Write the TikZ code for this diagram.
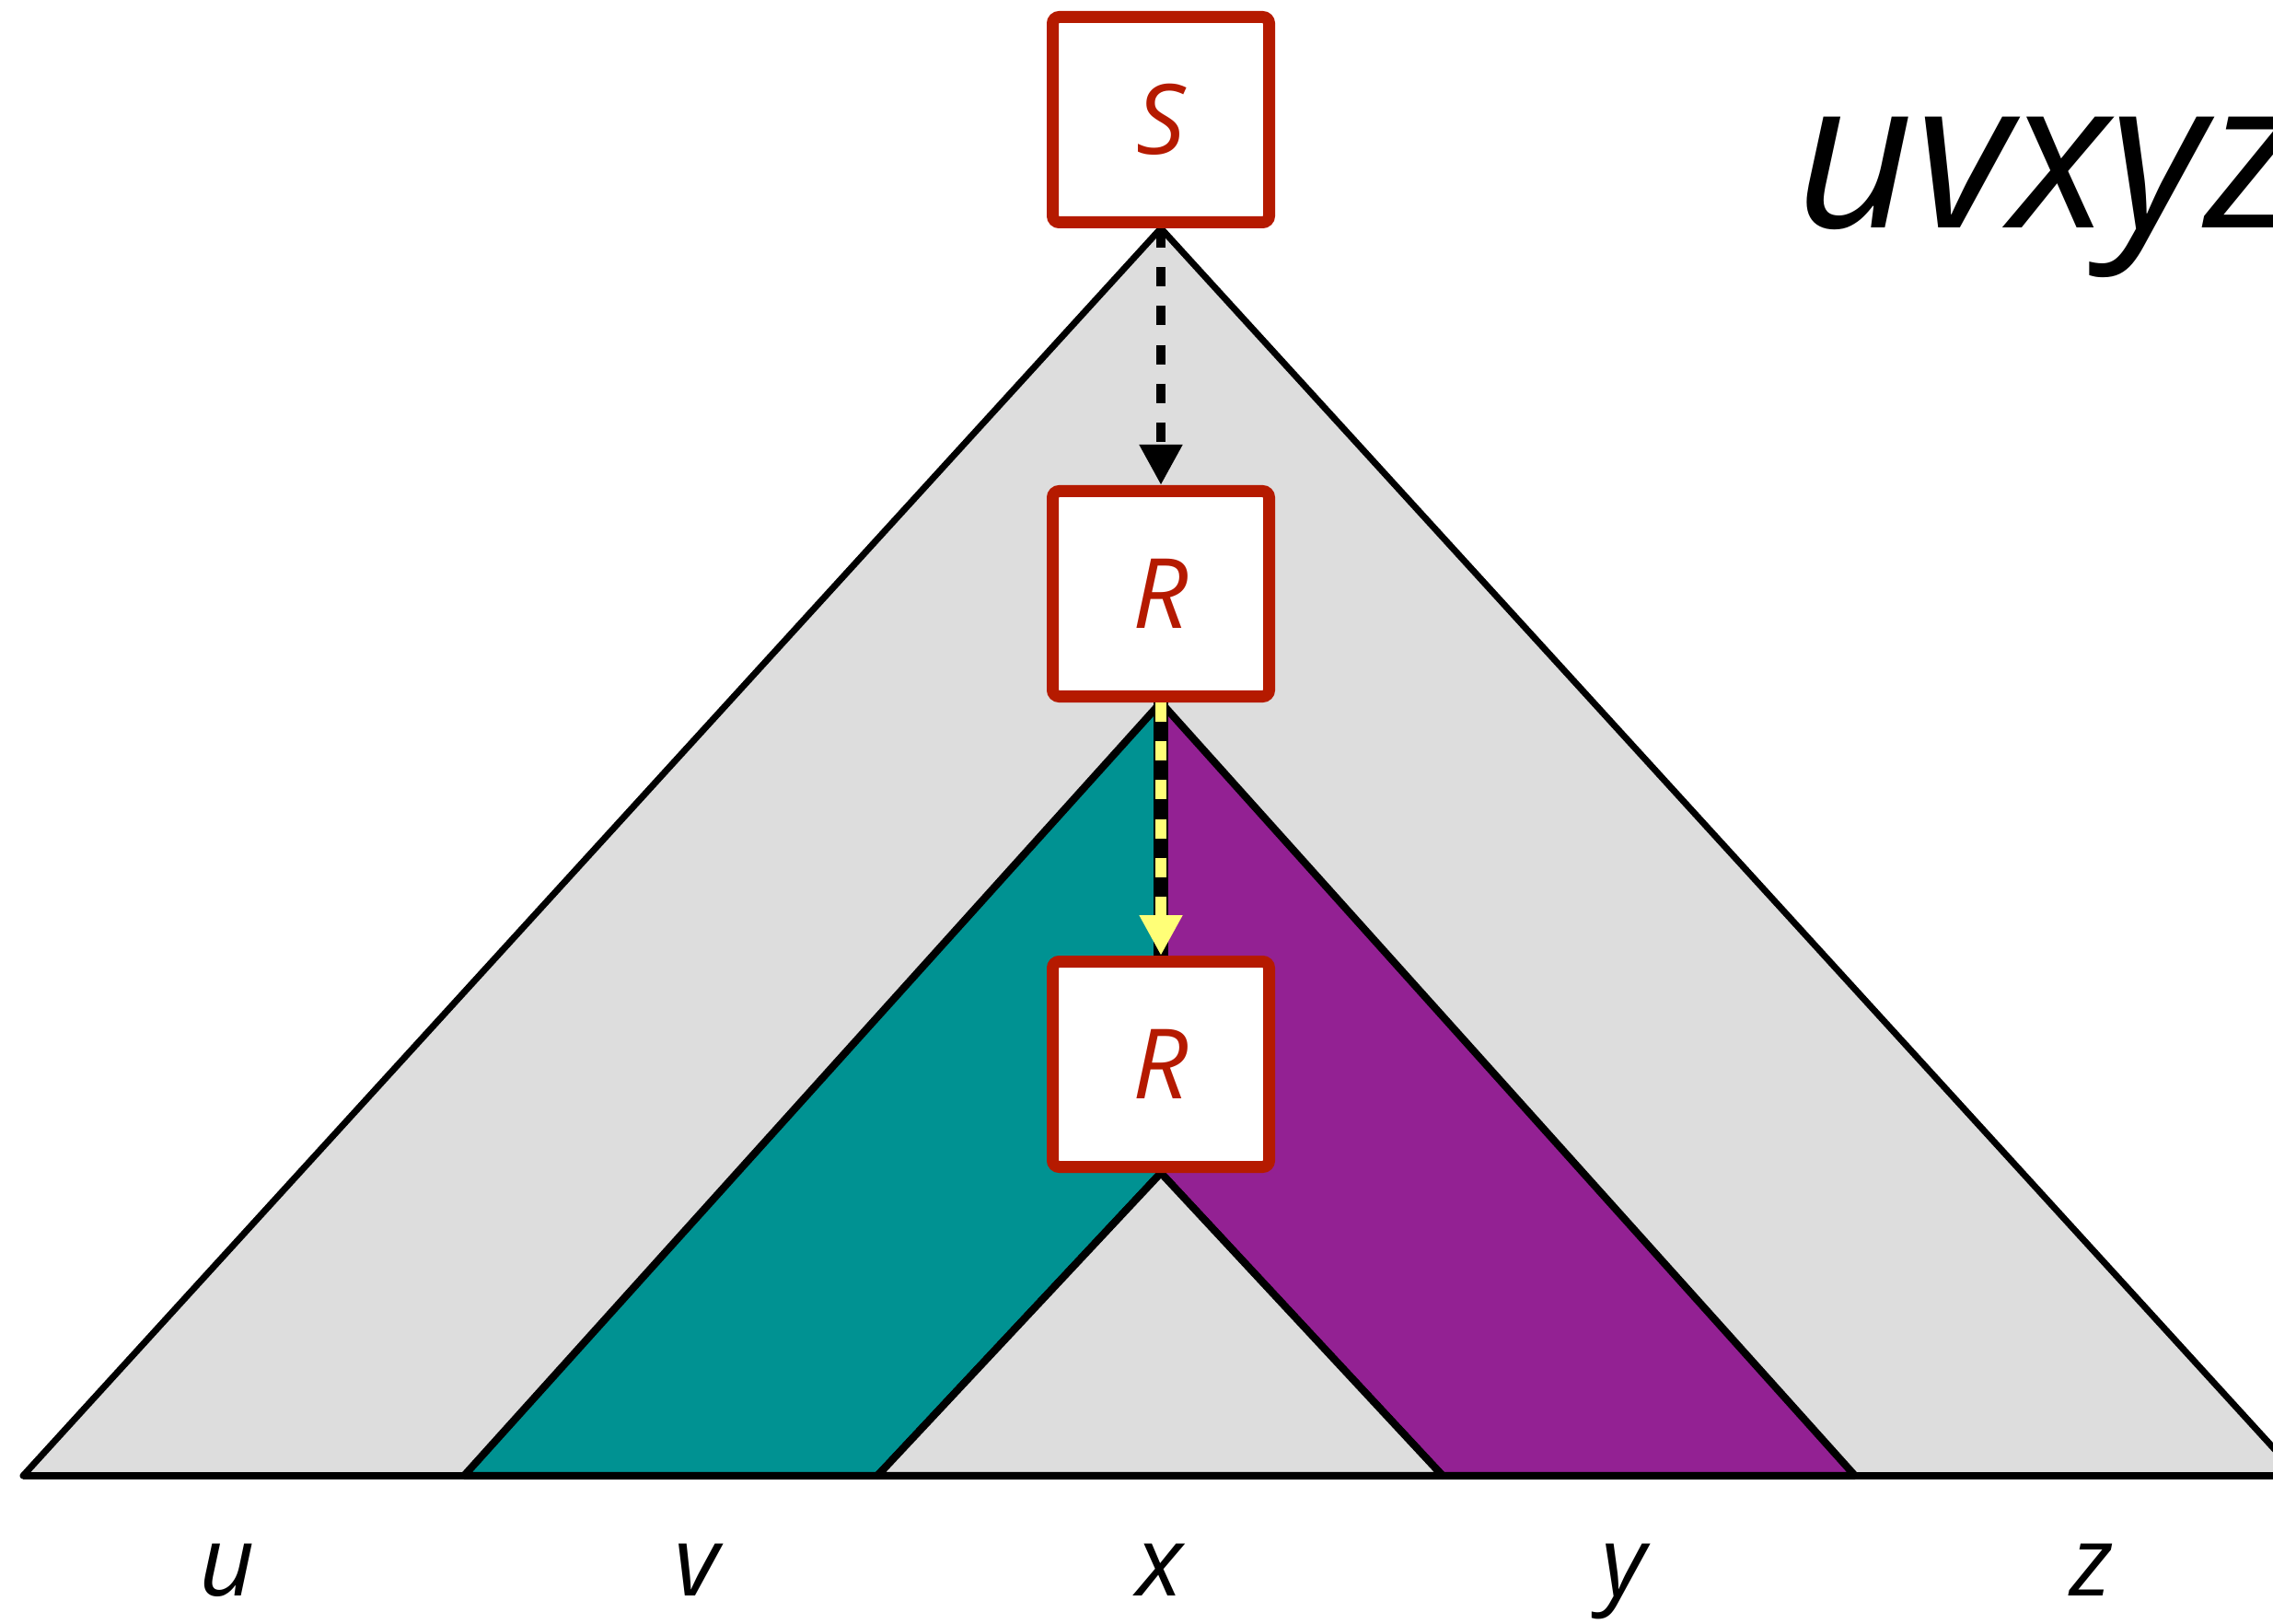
\documentclass[tikz,border=0pt]{standalone}
\usepackage{fontspec}
\setmainfont{Open Sans}
\usepackage{xcolor}
\usepackage{tikz}
\usetikzlibrary{arrows.meta, positioning, backgrounds}
\definecolor{boxred}{HTML}{B51A00}
\definecolor{treegray}{HTML}{DDDDDD}
\definecolor{vteal}{HTML}{009292}
\definecolor{ypurple}{HTML}{932193}
\definecolor{pumpyellow}{HTML}{FFFF77}

\begin{document}
\begin{tikzpicture}[
    box/.style={draw=boxred, fill=white, line width=3.7pt, rounded corners=2pt, minimum width=2.35cm, minimum height=2.23cm, text=boxred, font=\fontsize{30}{30}\selectfont\itshape},
    leaf/.style={anchor=base, inner sep=0pt, font=\fontsize{30}{30}\selectfont\itshape},
    tree/.style={draw=black, line width=2pt, line join=round},
    pump/.style={tree, line width=2.3pt},
    derive/.style={-{Triangle[length=0.44cm, width=0.44cm]}, dash pattern=on 6pt off 6pt},
    node distance=2.75cm
]
    \useasboundingbox (0,0) rectangle (24.69,17.63);

    % Derivation steps
    \node[box] (S) at (12.61,16.33) {S};
    \node[box, below=2.79cm of S] (R1) {R};
    \node[box, below=2.75cm of R1] (R2) {R};

    % Corners on the yield line
    \coordinate (bl) at (0.25,1.60);
    \coordinate (ml) at (5.04,1.60);
    \coordinate (il) at (9.53,1.60);
    \coordinate (ir) at (15.67,1.60);
    \coordinate (mr) at (20.15,1.60);
    \coordinate (br) at (24.97,1.60);

    \begin{scope}[on background layer]
        % Whole tree
        \draw[tree, fill=treegray] (S.south) -- (bl) -- (br) -- cycle;
        % Pumped parts
        \draw[pump, fill=vteal] (R1.south) -- (ml) -- (il) -- (R2.south) -- (R2.north) -- cycle;
        \draw[pump, fill=ypurple] (R1.south) -- (R2.north) -- (R2.south) -- (ir) -- (mr) -- cycle;
        % Inner subtree
        \draw[pump, fill=treegray] (R2.south) -- (il) -- (ir) -- cycle;
        % Yield
        \draw[pump] (bl) -- (br);
    \end{scope}

    % Arrows
    \draw[derive, line width=3.1pt] (S) -- (R1);
    \draw[line width=4.3pt] (R1) -- (R2);
    \draw[derive, pumpyellow, line width=3.4pt] (R1) -- (R2);

    % Labels
    \node[leaf] (u) at (2.47,0.30) {u};
    \node[leaf] (v) at (7.57,0.30) {v};
    \node[leaf] (x) at (12.60,0.30) {x};
    \node[leaf] (y) at (17.64,0.30) {y};
    \node[leaf] (z) at (22.72,0.30) {z};
    \node[anchor=base west, inner sep=0pt, font=\fontsize{64}{64}\selectfont\itshape] (word) at (19.50,15.15) {uvxyz};
\end{tikzpicture}
\end{document}
